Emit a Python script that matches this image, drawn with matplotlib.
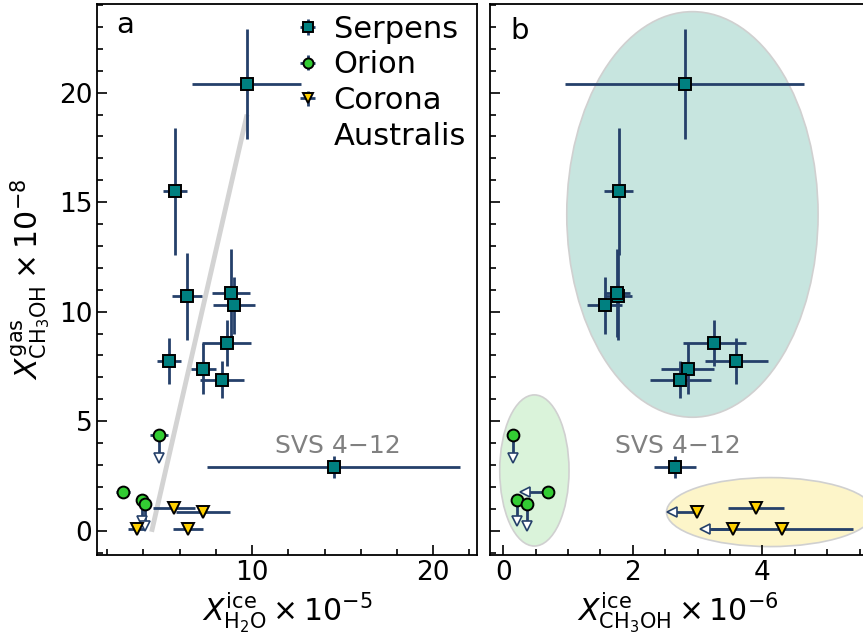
import matplotlib.pyplot as plt
import numpy as np
from matplotlib.patches import Ellipse
from matplotlib.lines import Line2D
from matplotlib.ticker import MultipleLocator
from matplotlib.container import ErrorbarContainer
from matplotlib.legend_handler import HandlerErrorbar

# gas-phase CH3OH (x 1e-8), H2O ice (x 1e-5), CH3OH ice (x 1e-6)
serp_gas = [20.4, 15.5, 10.7, 10.85, 10.3, 8.55, 7.75, 7.4, 6.9, 2.9]
serp_gas_err = [2.5, 2.9, 2.0, 2.0, 1.3, 1.05, 1.05, 1.15, 0.85, 0.5]
serp_h2o = [9.7, 5.75, 6.4, 8.85, 9.0, 8.6, 5.4, 7.3, 8.35, 14.5]
serp_h2o_err = [3.0, 0.65, 0.85, 1.05, 1.15, 1.35, 0.65, 0.7, 1.2, 7.0]
serp_meth = [2.8, 1.78, 1.77, 1.75, 1.57, 3.26, 3.6, 2.85, 2.73, 2.65]
serp_meth_err = [1.84, 0.22, 0.22, 0.2, 0.27, 0.49, 0.48, 0.41, 0.47, 0.33]

orion_gas = [4.35, 1.75, 1.4, 1.22]
orion_gas_lim = [1.05, 0, 0.95, 1.0]          # upper limits (arrow length)
orion_h2o = [4.86, 2.87, 3.94, 4.07]
orion_h2o_err = [0.49, 0.37, 0, 0]
orion_meth = [0.155, 0.686, 0.216, 0.371]
orion_meth_lim = [0, 0.35, 0, 0]

cra_gas = [1.02, 0.86, 0.08, 0.08]
cra_h2o = [5.69, 7.3, 3.63, 6.46]
cra_h2o_err = [1.18, 1.5, 0.46, 0.81]
cra_meth = [3.9, 2.99, 3.55, 4.3]
cra_meth_err = [0.43, 0, 0, 1.1]
cra_meth_lim = [0, 0.39, 0.44, 0]

fit_x = [4.45, 9.72]
fit_y = [-0.05, 19.0]

# group regions in panel b: centre x, centre y, width, height, colour
regions = [(2.92, 14.44, 3.88, 18.52, '#c7e5df'),
           (0.48, 2.75, 1.07, 6.9, '#daf3da'),
           (4.12, 0.85, 3.2, 3.15, '#fdf5c9')]

ecol = '#25406a'
kw = dict(ls='none', mec='black', mew=1.4, ecolor=ecol, elinewidth=2, capsize=0)


def arrows(ax, x, y, lim, axis):
    x = np.asarray(x)
    y = np.asarray(y)
    lim = np.asarray(lim, dtype=float)
    m = lim > 0
    if not m.any():
        return
    if axis == 'y':
        eb = ax.errorbar(x[m], y[m], yerr=lim[m], uplims=True, fmt='none',
                         ecolor=ecol, elinewidth=2)
        mk = 'v'
    else:
        eb = ax.errorbar(x[m], y[m], xerr=lim[m], xuplims=True, fmt='none',
                         ecolor=ecol, elinewidth=2)
        mk = '<'
    for cap in eb[1]:
        cap.set_marker(mk)
        cap.set_markersize(7.5)
        cap.set_markerfacecolor('white')
        cap.set_markeredgecolor(ecol)
        cap.set_markeredgewidth(1.2)


fig = plt.figure(figsize=(8.63, 6.42), dpi=100)
ax1 = fig.add_axes([0.1127, 0.1355, 0.4396, 0.8583])
ax2 = fig.add_axes([0.5678, 0.1355, 0.4357, 0.8583], sharey=ax1)

# panel a
ax1.plot(fit_x, fit_y, color='#d3d3d3', lw=3.5, zorder=1, solid_capstyle='butt')
h1 = ax1.errorbar(serp_h2o, serp_gas, xerr=serp_h2o_err, yerr=serp_gas_err, fmt='s',
                  ms=8.5, mfc='teal', **kw)
h2 = ax1.errorbar(orion_h2o, orion_gas, xerr=orion_h2o_err, yerr=np.zeros(4), fmt='o',
                  ms=8.5, mfc='#33cc33', **kw)
h3 = ax1.errorbar(cra_h2o, cra_gas, xerr=cra_h2o_err, yerr=np.zeros(4), fmt='v',
                  ms=9, mfc='#ffd000', **kw)
arrows(ax1, orion_h2o, orion_gas, orion_gas_lim, 'y')
ax1.text(14.71, 3.53, 'SVS 4\u221212', color='gray', fontsize=18, ha='center', va='baseline')
ax1.text(0.051, 0.947, 'a', transform=ax1.transAxes, fontsize=21, va='baseline')
blank = Line2D([], [], ls='none')
ax1.legend([h1, h2, h3, blank], ['Serpens', 'Orion', 'Corona', 'Australis'],
           loc='upper right', frameon=False, fontsize=22, markerscale=0.85,
           handlelength=0.6, handletextpad=0.55, labelspacing=0.22,
           borderaxespad=0.1, borderpad=0.25,
           handler_map={ErrorbarContainer: HandlerErrorbar(xerr_size=0.25)})

# panel b
for cx, cy, w, h, c in regions:
    ax2.add_patch(Ellipse((cx, cy), w, h, facecolor=c, edgecolor='#d0d0d0', lw=1.2, zorder=0))
ax2.errorbar(serp_meth, serp_gas, xerr=serp_meth_err, yerr=serp_gas_err, fmt='s',
             ms=8.5, mfc='teal', **kw)
ax2.errorbar(orion_meth, orion_gas, fmt='o', ms=8.5, mfc='#33cc33', **kw)
ax2.errorbar(cra_meth, cra_gas, xerr=cra_meth_err, fmt='v', ms=9, mfc='#ffd000', **kw)
arrows(ax2, orion_meth, orion_gas, orion_gas_lim, 'y')
arrows(ax2, orion_meth, orion_gas, orion_meth_lim, 'x')
arrows(ax2, cra_meth, cra_gas, cra_meth_lim, 'x')
ax2.text(2.69, 3.53, 'SVS 4\u221212', color='gray', fontsize=18, ha='center', va='baseline')
ax2.text(0.053, 0.936, 'b', transform=ax2.transAxes, fontsize=21, va='baseline')

ax1.set_xlim(1.45, 22.4)
ax2.set_xlim(-0.205, 5.6)
ax1.set_ylim(-1.11, 24.05)

ax1.xaxis.set_major_locator(MultipleLocator(10))
ax1.xaxis.set_minor_locator(MultipleLocator(2))
ax2.xaxis.set_major_locator(MultipleLocator(2))
ax2.xaxis.set_minor_locator(MultipleLocator(0.5))
ax1.yaxis.set_major_locator(MultipleLocator(5))
ax1.yaxis.set_minor_locator(MultipleLocator(1))

for ax in (ax1, ax2):
    ax.tick_params(which='both', direction='in', labelsize=19, width=1.2)
    ax.tick_params(which='major', length=7)
    ax.tick_params(which='minor', length=4)
    for s in ax.spines.values():
        s.set_linewidth(1.3)
ax2.tick_params(labelleft=False)

ax1.set_xlabel(r'$X^{\mathrm{ice}}_{\mathrm{H_2O}} \times 10^{-5}$', fontsize=21.5)
ax2.set_xlabel(r'$X^{\mathrm{ice}}_{\mathrm{CH_3OH}} \times 10^{-6}$', fontsize=21.5)
ax1.set_ylabel(r'$X^{\mathrm{gas}}_{\mathrm{CH_3OH}} \times 10^{-8}$', fontsize=21.5)

fig.savefig('out.png', dpi=100)
